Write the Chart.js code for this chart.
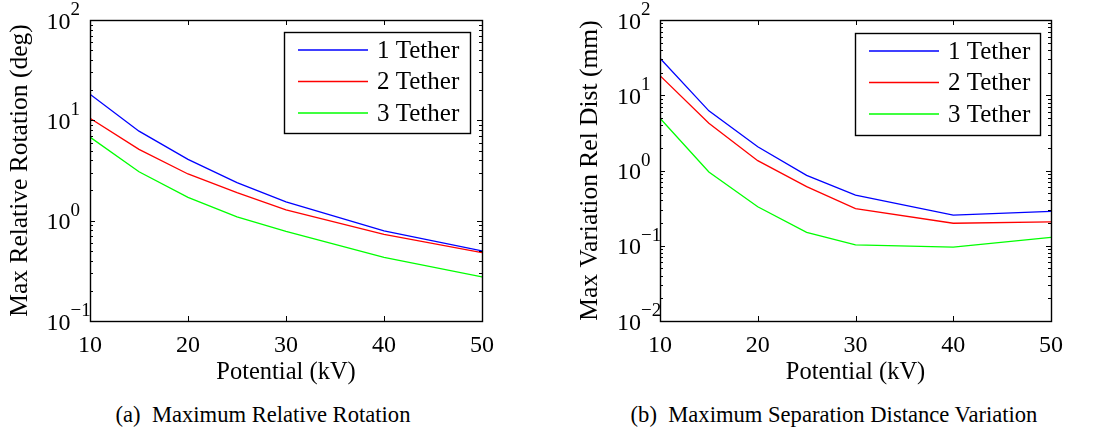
<!DOCTYPE html>
<html>
<head>
<meta charset="utf-8">
<script src="https://cdn.jsdelivr.net/npm/chart.js@4.4.1/dist/chart.umd.min.js"></script>
<style>
  html, body { margin: 0; padding: 0; background: #fff; }
  body { width: 1096px; height: 437px; position: relative; overflow: hidden; font-family: 'Liberation Serif', 'DejaVu Serif', serif; }
  canvas { position: absolute; top: 0; }
  .caption { position: absolute; top: 403px; height: 24px; line-height: 24px; font-size: 22.6px; text-align: center; white-space: pre; color: #000; }
</style>
</head>
<body>
<canvas id="rotationChart" width="548" height="390" style="left:0"></canvas>
<canvas id="separationChart" width="548" height="390" style="left:548px"></canvas>
<div class="caption" style="left:0; width:526px">(a)  Maximum Relative Rotation</div>
<div class="caption" style="left:548px; width:572px">(b)  Maximum Separation Distance Variation</div>
<script>
// data
const potentials = [10, 15, 20, 25, 30, 40, 50];
const seriesLabels = ['1 Tether', '2 Tether', '3 Tether'];
const xTickValues = [10, 20, 30, 40, 50];

const rotation1 = [18.2, 7.8, 4.08, 2.39, 1.54, 0.79, 0.50];
const rotation2 = [10.5, 5.14, 2.92, 1.90, 1.28, 0.73, 0.48];
const rotation3 = [6.8, 3.07, 1.71, 1.09, 0.78, 0.43, 0.275];
const rotationDecades = [-1, 0, 1, 2];

const separation1 = [31, 6.2, 2.07, 0.86, 0.47, 0.256, 0.287];
const separation2 = [18.2, 4.24, 1.35, 0.61, 0.311, 0.199, 0.207];
const separation3 = [4.94, 0.955, 0.33, 0.151, 0.103, 0.096, 0.129];
const separationDecades = [-2, -1, 0, 1, 2];

const lineColors = ['#0000ff', '#ff0000', '#00ff00'];
const serif = "'Liberation Serif', 'DejaVu Serif', serif";

// box, inward ticks and 10^n labels in the MATLAB look
const framePlugin = {
    id: 'frame',
    afterDraw(chart) {
        const { ctx, chartArea: a, scales: { x, y } } = chart;
        const cfg = chart.options.plugins.frame;
        const decades = cfg.decades;
        ctx.save();
        ctx.strokeStyle = '#000';
        ctx.lineWidth = 1;
        ctx.beginPath();
        xTickValues.forEach(v => {
            const px = Math.round(x.getPixelForValue(v)) + 0.5;
            ctx.moveTo(px, a.bottom); ctx.lineTo(px, a.bottom - 5);
            ctx.moveTo(px, a.top); ctx.lineTo(px, a.top + 5);
        });
        for (let d = decades[0]; d < decades[decades.length - 1]; d++) {
            for (let m = 1; m <= 9; m++) {
                const py = Math.round(y.getPixelForValue(m * Math.pow(10, d))) + 0.5;
                const len = m === 1 ? 5 : 3;
                ctx.moveTo(a.left, py); ctx.lineTo(a.left + len, py);
                ctx.moveTo(a.right, py); ctx.lineTo(a.right - len, py);
            }
        }
        ctx.stroke();
        ctx.lineWidth = 1.4;
        ctx.strokeRect(Math.round(a.left) + 0.5, Math.round(a.top) + 0.5, Math.round(a.width), Math.round(a.height));

        ctx.fillStyle = '#000';
        ctx.textBaseline = 'alphabetic';
        ctx.textAlign = 'left';
        decades.forEach(d => {
            const py = y.getPixelForValue(Math.pow(10, d));
            ctx.font = `24px ${serif}`;
            ctx.fillText('10', cfg.labelX, py + 8.5);
            const w = ctx.measureText('10').width;
            ctx.font = `19px ${serif}`;
            ctx.fillText(d < 0 ? '\u2212' + (-d) : String(d), cfg.labelX + w, py - 5);
        });
        ctx.restore();
    }
};

const boxLegendPlugin = {
    id: 'boxLegend',
    afterDraw(chart) {
        const { ctx, chartArea: a } = chart;
        const cfg = chart.options.plugins.boxLegend;
        const left = Math.round(a.right - cfg.right - cfg.width);
        const top = Math.round(a.top + cfg.top);
        ctx.save();
        ctx.fillStyle = '#fff';
        ctx.fillRect(left, top, cfg.width, cfg.height);
        ctx.strokeStyle = '#000';
        ctx.lineWidth = 1.4;
        ctx.strokeRect(left + 0.5, top + 0.5, cfg.width, cfg.height);
        ctx.font = `25px ${serif}`;
        ctx.textBaseline = 'middle';
        ctx.textAlign = 'left';
        chart.data.datasets.forEach((ds, i) => {
            const rowY = top + 18 + i * 31.5;
            ctx.beginPath();
            ctx.strokeStyle = lineColors[i];
            ctx.lineWidth = 1.3;
            ctx.moveTo(left + 14, rowY);
            ctx.lineTo(left + 84, rowY);
            ctx.stroke();
            ctx.fillStyle = '#000';
            ctx.fillText(ds.label, left + 93, rowY + 1);
        });
        ctx.restore();
    }
};

function buildDatasets(seriesList) {
    return seriesList.map((values, i) => ({
        label: seriesLabels[i],
        data: potentials.map((p, j) => ({ x: p, y: values[j] })),
        borderColor: lineColors[i],
        backgroundColor: lineColors[i],
        borderWidth: 1.3,
        pointRadius: 0,
        tension: 0
    }));
}

function renderChart(canvasId, seriesList, decades, yTitle, opts) {
    const ctx = document.getElementById(canvasId).getContext('2d');
    return new Chart(ctx, {
        type: 'line',
        data: { datasets: buildDatasets(seriesList) },
        options: {
            responsive: false,
            animation: false,
            devicePixelRatio: 1,
            layout: { padding: { left: 0, top: 20, right: opts.rightPad, bottom: 0 } },
            scales: {
                x: {
                    type: 'linear',
                    min: 10,
                    max: 50,
                    grid: { display: false, drawTicks: false },
                    border: { display: false },
                    ticks: {
                        stepSize: 10,
                        color: '#000',
                        padding: 10,
                        font: { family: serif, size: 24 },
                        maxRotation: 0
                    },
                    title: {
                        display: true,
                        text: 'Potential (kV)',
                        color: '#000',
                        font: { family: serif, size: 24.5 },
                        padding: { top: 0, bottom: 3 }
                    },
                    afterFit: scale => { scale.height = 69; }
                },
                y: {
                    type: 'logarithmic',
                    min: Math.pow(10, decades[0]),
                    max: Math.pow(10, decades[decades.length - 1]),
                    grid: { display: false, drawTicks: false },
                    border: { display: false },
                    ticks: { display: false },
                    title: {
                        display: true,
                        text: yTitle,
                        color: '#000',
                        font: { family: serif, size: 25.5 },
                        padding: { top: opts.yTitlePad, bottom: 0 }
                    },
                    afterFit: scale => { scale.width = opts.yAxisWidth; }
                }
            },
            plugins: {
                legend: { display: false },
                tooltip: { enabled: false },
                frame: { decades: decades, labelX: opts.labelX },
                boxLegend: opts.legend
            }
        },
        plugins: [framePlugin, boxLegendPlugin]
    });
}

renderChart('rotationChart', [rotation1, rotation2, rotation3], rotationDecades,
    'Max Relative Rotation (deg)',
    { rightPad: 66, yAxisWidth: 90, yTitlePad: 5, labelX: 46.5,
      legend: { right: 12, top: 12, width: 186, height: 101 } });

renderChart('separationChart', [separation1, separation2, separation3], separationDecades,
    'Max Variation Rel Dist (mm)',
    { rightPad: 45, yAxisWidth: 112, yTitlePad: 27, labelX: 69,
      legend: { right: 11, top: 13, width: 185, height: 102 } });
</script>
</body>
</html>
